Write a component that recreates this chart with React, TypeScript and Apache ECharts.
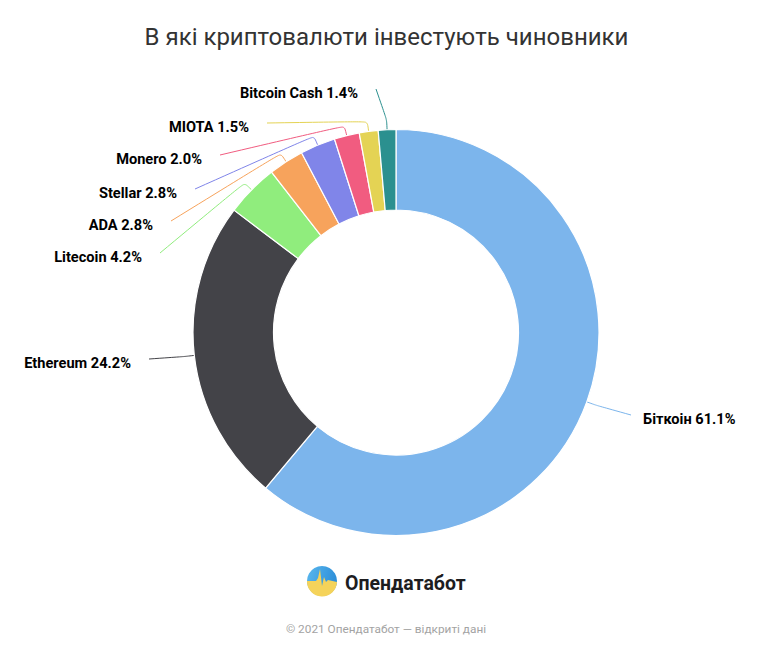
import React, { useEffect, useRef } from "react";
import * as echarts from "echarts";

const TITLE = "В які криптовалюти інвестують чиновники";
const FOOTER = "© 2021 Опендатабот — відкриті дані";
const BRAND = "Опендатабот";

const categories = [
  "Біткоін",
  "Ethereum",
  "Litecoin",
  "ADA",
  "Stellar",
  "Monero",
  "MIOTA",
  "Bitcoin Cash",
];
const values = [61.1, 24.2, 4.2, 2.8, 2.8, 2.0, 1.5, 1.4];
const colors = [
  "#7cb5ec",
  "#434348",
  "#90ed7d",
  "#f7a35c",
  "#8085e9",
  "#f15c80",
  "#e4d354",
  "#2b908f",
];

// label anchor layout (text edge x, centre y) – layout only
const LABEL_LAYOUT: [number, number, "left" | "right"][] = [
  [643, 419, "left"],
  [131, 363, "right"],
  [142, 257, "right"],
  [153, 225, "right"],
  [177, 193, "right"],
  [202, 159, "right"],
  [249, 127, "right"],
  [358, 93, "right"],
];

const CX = 396;
const CY = 332.5;
const R_IN = 122.5;
const R_OUT = 203;

const LOGO_YELLOW =
  "M -15 0 L -6 0 L -4 -3 L -2 -12 L 0 5 L 2 -4 L 4 1 L 6 -1 L 15 1 A 15 15 0 0 1 -15 0 Z";

export default function App() {
  const ref = useRef<HTMLDivElement>(null);
  useEffect(() => {
    if (!ref.current) return;
    echarts.graphic.registerShape(
      "logoYellow",
      echarts.graphic.extendPath(LOGO_YELLOW, {}) as any
    );
    const chart = echarts.init(ref.current, null, { renderer: "svg" });
    const total = values.reduce((a, b) => a + b, 0);
    const midAngles: number[] = [];
    let acc = 0;
    values.forEach((v) => {
      const mid = acc + v / 2;
      midAngles.push((mid / total) * Math.PI * 2);
      acc += v;
    });

    chart.setOption({
      animation: false,
      backgroundColor: "#ffffff",
      graphic: [
        {
          type: "text",
          x: 386.5,
          y: 37,
          style: {
            text: TITLE,
            fontFamily: "Roboto",
            fontSize: 24,
            fill: "#333333",
            align: "center",
            verticalAlign: "middle",
          },
        },
        {
          type: "circle",
          shape: { cx: 322, cy: 581, r: 15 },
          style: {
            fill: new echarts.graphic.LinearGradient(0, 0, 1, 0.3, [
              { offset: 0, color: "#5ab8ee" },
              { offset: 1, color: "#2e8fd9" },
            ]),
          },
        },
        {
          type: "logoYellow",
          x: 322,
          y: 581,
          style: { fill: "#f5d35a" },
        },
        {
          type: "text",
          x: 345,
          y: 583,
          style: {
            text: BRAND,
            fontFamily: "Roboto",
            fontWeight: "bold",
            fontSize: 19.5,
            fill: "#1d1d1f",
            align: "left",
            verticalAlign: "middle",
          },
        },
        {
          type: "text",
          x: 386,
          y: 629,
          style: {
            text: FOOTER,
            fontFamily: "Roboto",
            fontSize: 11.8,
            fill: "#a3a3a3",
            align: "center",
            verticalAlign: "middle",
          },
        },
      ],
      series: [
        {
          type: "pie",
          center: [CX, CY],
          radius: [R_IN, R_OUT],
          startAngle: 90,
          clockwise: true,
          avoidLabelOverlap: false,
          data: categories.map((name, i) => ({
            name,
            value: values[i],
            itemStyle: { color: colors[i] },
            labelLine: { lineStyle: { color: colors[i] } },
          })),
          itemStyle: { borderColor: "#ffffff", borderWidth: 1.2 },
          label: {
            show: true,
            position: "outside",
            formatter: (p: any) => `${p.name} ${p.value.toFixed(1)}%`,
            fontFamily: "Roboto",
            fontWeight: "bold",
            fontSize: 14.6,
            color: "#000000",
          },
          labelLine: { show: true, smooth: 0.25, lineStyle: { width: 1 } },
          emphasis: { disabled: true },
          labelLayout: (params: any) => {
            const i = params.dataIndex;
            const [lx, ly, side] = LABEL_LAYOUT[i];
            const a = midAngles[i];
            const sx = Math.sin(a);
            const sy = -Math.cos(a);
            const p0 = [CX + R_OUT * sx, CY + R_OUT * sy];
            const p1 = [CX + (R_OUT + 10) * sx, CY + (R_OUT + 10) * sy];
            const endX = side === "right" ? lx + 18 : lx - 12;
            const p2 = [endX, ly - 4];
            return {
              x: lx,
              y: ly,
              align: side,
              verticalAlign: "middle",
              labelLinePoints: [p2, p1, p0],
            };
          },
        },
      ],
    });
    return () => chart.dispose();
  }, []);
  return (
    <div
      ref={ref}
      style={{ position: "fixed", left: 0, top: 0, width: 764, height: 645 }}
    />
  );
}
